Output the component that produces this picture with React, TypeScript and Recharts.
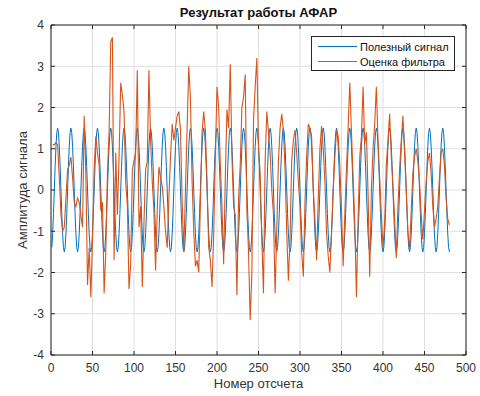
import React from 'react';
import { LineChart, Line, XAxis, YAxis, CartesianGrid, ReferenceLine } from 'recharts';

const chartTitle = 'Результат работы АФАР';
const xLabel = 'Номер отсчета';
const yLabel = 'Амплитуда сигнала';
const seriesNames = ['Полезный сигнал', 'Оценка фильтра'];
const xTicks = [0, 50, 100, 150, 200, 250, 300, 350, 400, 450, 500];
const yTicks = [-4, -3, -2, -1, 0, 1, 2, 3, 4];

// useful signal, samples 1..480
const signal = [
  -1.39, -1.06, -0.57, 0, 0.57, 1.06, 1.39, 1.5, 1.39, 1.06, 0.57, 0, -0.57, -1.06, -1.39, -1.5,
  -1.39, -1.06, -0.57, 0, 0.57, 1.06, 1.39, 1.5, 1.39, 1.06, 0.57, 0, -0.57, -1.06, -1.39, -1.5,
  -1.39, -1.06, -0.57, 0, 0.57, 1.06, 1.39, 1.5, 1.39, 1.06, 0.57, 0, -0.57, -1.06, -1.39, -1.5,
  -1.39, -1.06, -0.57, 0, 0.57, 1.06, 1.39, 1.5, 1.39, 1.06, 0.57, 0, -0.57, -1.06, -1.39, -1.5,
  -1.39, -1.06, -0.57, 0, 0.57, 1.06, 1.39, 1.5, 1.39, 1.06, 0.57, 0, -0.57, -1.06, -1.39, -1.5,
  -1.39, -1.06, -0.57, 0, 0.57, 1.06, 1.39, 1.5, 1.39, 1.06, 0.57, 0, -0.57, -1.06, -1.39, -1.5,
  -1.39, -1.06, -0.57, 0, 0.57, 1.06, 1.39, 1.5, 1.39, 1.06, 0.57, 0, -0.57, -1.06, -1.39, -1.5,
  -1.39, -1.06, -0.57, 0, 0.57, 1.06, 1.39, 1.5, 1.39, 1.06, 0.57, 0, -0.57, -1.06, -1.39, -1.5,
  -1.39, -1.06, -0.57, 0, 0.57, 1.06, 1.39, 1.5, 1.39, 1.06, 0.57, 0, -0.57, -1.06, -1.39, -1.5,
  -1.39, -1.06, -0.57, 0, 0.57, 1.06, 1.39, 1.5, 1.39, 1.06, 0.57, 0, -0.57, -1.06, -1.39, -1.5,
  -1.39, -1.06, -0.57, 0, 0.57, 1.06, 1.39, 1.5, 1.39, 1.06, 0.57, 0, -0.57, -1.06, -1.39, -1.5,
  -1.39, -1.06, -0.57, 0, 0.57, 1.06, 1.39, 1.5, 1.39, 1.06, 0.57, 0, -0.57, -1.06, -1.39, -1.5,
  -1.39, -1.06, -0.57, 0, 0.57, 1.06, 1.39, 1.5, 1.39, 1.06, 0.57, 0, -0.57, -1.06, -1.39, -1.5,
  -1.39, -1.06, -0.57, 0, 0.57, 1.06, 1.39, 1.5, 1.39, 1.06, 0.57, 0, -0.57, -1.06, -1.39, -1.5,
  -1.39, -1.06, -0.57, 0, 0.57, 1.06, 1.39, 1.5, 1.39, 1.06, 0.57, 0, -0.57, -1.06, -1.39, -1.5,
  -1.39, -1.06, -0.57, 0, 0.57, 1.06, 1.39, 1.5, 1.39, 1.06, 0.57, 0, -0.57, -1.06, -1.39, -1.5,
  -1.39, -1.06, -0.57, 0, 0.57, 1.06, 1.39, 1.5, 1.39, 1.06, 0.57, 0, -0.57, -1.06, -1.39, -1.5,
  -1.39, -1.06, -0.57, 0, 0.57, 1.06, 1.39, 1.5, 1.39, 1.06, 0.57, 0, -0.57, -1.06, -1.39, -1.5,
  -1.39, -1.06, -0.57, 0, 0.57, 1.06, 1.39, 1.5, 1.39, 1.06, 0.57, 0, -0.57, -1.06, -1.39, -1.5,
  -1.39, -1.06, -0.57, 0, 0.57, 1.06, 1.39, 1.5, 1.39, 1.06, 0.57, 0, -0.57, -1.06, -1.39, -1.5,
  -1.39, -1.06, -0.57, 0, 0.57, 1.06, 1.39, 1.5, 1.39, 1.06, 0.57, 0, -0.57, -1.06, -1.39, -1.5,
  -1.39, -1.06, -0.57, 0, 0.57, 1.06, 1.39, 1.5, 1.39, 1.06, 0.57, 0, -0.57, -1.06, -1.39, -1.5,
  -1.39, -1.06, -0.57, 0, 0.57, 1.06, 1.39, 1.5, 1.39, 1.06, 0.57, 0, -0.57, -1.06, -1.39, -1.5,
  -1.39, -1.06, -0.57, 0, 0.57, 1.06, 1.39, 1.5, 1.39, 1.06, 0.57, 0, -0.57, -1.06, -1.39, -1.5,
  -1.39, -1.06, -0.57, 0, 0.57, 1.06, 1.39, 1.5, 1.39, 1.06, 0.57, 0, -0.57, -1.06, -1.39, -1.5,
  -1.39, -1.06, -0.57, 0, 0.57, 1.06, 1.39, 1.5, 1.39, 1.06, 0.57, 0, -0.57, -1.06, -1.39, -1.5,
  -1.39, -1.06, -0.57, 0, 0.57, 1.06, 1.39, 1.5, 1.39, 1.06, 0.57, 0, -0.57, -1.06, -1.39, -1.5,
  -1.39, -1.06, -0.57, 0, 0.57, 1.06, 1.39, 1.5, 1.39, 1.06, 0.57, 0, -0.57, -1.06, -1.39, -1.5,
  -1.39, -1.06, -0.57, 0, 0.57, 1.06, 1.39, 1.5, 1.39, 1.06, 0.57, 0, -0.57, -1.06, -1.39, -1.5,
  -1.39, -1.06, -0.57, 0, 0.57, 1.06, 1.39, 1.5, 1.39, 1.06, 0.57, 0, -0.57, -1.06, -1.39, -1.5,
];

// filter estimate, read at samples 2,4,...,480
const estimate = [
  1.1, 1.1, 1.15, 1.1, 0.3, -0.6, -1.0, -0.9,
  -0.2, 0.5, 0.6, 0.8, 0.3, -0.3, -0.4, -0.2,
  -0.3, -0.6, -0.9, 1.8, 0.4, -2.3, -1.4, -2.6,
  -1.2, 0.5, 1.3, 0.9, 0.6, -0.5, -0.3, -2.5,
  -1.5, 0.4, 1.4, 3.6, 3.7, -1.7, 0.9, -0.6,
  0.8, 2.6, 2.3, 1.9, 0.2, -0.4, -2.4, -1.8,
  0.5, 0.7, 0.9, 2.9, -0.9, -0.4, -2.35, -0.8,
  0.5, 0.7, 2.9, 1.2, 0.2, -0.5, -1.95, -0.5,
  0.56, 0.3, 0.1, -0.4, -1.0, -1.4, -0.2, 0.8,
  1.6, 1.2, 1.5, 1.8, 1.9, 1.45, -0.25, -1.5,
  0.0, 1.5, 3.0, 2.2, 0.2, -1.0, -1.85, -1.7,
  -2.0, -0.3, 1.4, 1.9, 1.45, 0.2, -1.4, -1.7,
  -2.35, -1.1, 0.8, 2.5, 2.0, 0.6, -0.4, -1.8,
  0.3, 1.95, 1.5, 3.05, 0.8, -0.4, -0.6, -2.55,
  -0.2, 0.6, 2.0, 2.25, 2.8, -0.5, -1.5, -3.15,
  -2.0, 1.7, 2.5, 3.2, 1.05, 0.4, -1.2, -2.5,
  0.7, 1.9, 1.4, 0.9, 0.0, -0.6, -2.5, -1.0,
  0.7, 1.5, 1.85, 1.45, 0.5, -1.0, -2.2, -1.2,
  0.7, 1.2, 1.45, 0.9, 0.2, -0.4, -1.5, -2.1,
  -0.3, 0.8, 1.6, 1.5, 1.3, 0.0, -0.7, -1.7,
  -0.2, 1.0, 1.55, 1.0, 0.2, -1.05, -1.6, -2.0,
  -1.0, 0.0, 0.8, 1.45, 1.3, 0.6, -0.5, -1.85,
  -0.6, 0.5, 1.5, 2.6, 1.4, 0.3, -0.8, -2.6,
  -0.7, 0.8, 1.3, 2.5, 1.1, 1.4, -0.1, -2.1,
  0.0, 1.0, 1.6, 2.5, 1.2, 0.3, -0.6, -1.4,
  -0.8, 0.6, 1.2, 1.85, 0.8, 0.1, -0.7, -1.65,
  -0.4, 0.5, 1.2, 1.8, 0.9, 0.0, -1.0, -1.45,
  -0.5, 0.4, 0.8, 1.0, 0.7, 0.2, -0.6, -1.2,
  -0.5, 0.2, 0.7, 0.9, 0.4, -0.4, -0.9, -0.7,
  -0.4, 0.3, 0.9, 1.0, 0.6, -0.2, -0.7, -0.85,
];

const data = signal.map((v, i) => ({
  n: i + 1,
  signal: v,
  estimate: i % 2 === 1 ? estimate[(i - 1) / 2] : null,
}));

const W = 480;
const H = 396;
const M = { top: 25, right: 14, bottom: 41, left: 51 };
const PLOT_TOP = M.top;
const PLOT_BOTTOM = H - M.bottom;
const PLOT_LEFT = M.left;
const PLOT_RIGHT = W - M.right;
const AXIS_COLOR = '#262626';
const TEXT_COLOR = '#333333';
const BLUE = '#0072BD';
const ORANGE = '#D95319';
const FONT = '"Liberation Sans", Arial, Helvetica, sans-serif';
const TICK_LEN = 4;

const XTick = (props: any) => {
  const { x, y, payload } = props;
  return (
    <g>
      <line x1={x} x2={x} y1={PLOT_BOTTOM} y2={PLOT_BOTTOM - TICK_LEN} stroke={AXIS_COLOR} strokeWidth={1} />
      <line x1={x} x2={x} y1={PLOT_TOP} y2={PLOT_TOP + TICK_LEN} stroke={AXIS_COLOR} strokeWidth={1} />
      <text x={x} y={y} dy="0.71em" textAnchor="middle" fill={TEXT_COLOR} fontSize={12} fontFamily={FONT}>
        {payload.value}
      </text>
    </g>
  );
};

const YTick = (props: any) => {
  const { x, y, payload } = props;
  return (
    <g>
      <line x1={PLOT_LEFT} x2={PLOT_LEFT + TICK_LEN} y1={y} y2={y} stroke={AXIS_COLOR} strokeWidth={1} />
      <line x1={PLOT_RIGHT} x2={PLOT_RIGHT - TICK_LEN} y1={y} y2={y} stroke={AXIS_COLOR} strokeWidth={1} />
      <text x={x} y={y} dy="0.355em" textAnchor="end" fill={TEXT_COLOR} fontSize={12} fontFamily={FONT}>
        {payload.value}
      </text>
    </g>
  );
};

const LegendBox = () => {
  const colors = [BLUE, ORANGE];
  return (
    <div
      style={{
        position: 'absolute',
        left: 311,
        top: 36,
        border: '1px solid #262626',
        background: '#fff',
        width: 144,
        height: 35,
        boxSizing: 'border-box',
        padding: '2px 0 0 6px',
        fontFamily: FONT,
        fontSize: 11,
        color: '#111',
      }}
    >
      {seriesNames.map((name, i) => (
        <div key={name} style={{ display: 'flex', alignItems: 'center', height: 15 }}>
          <svg width={39} height={3} style={{ marginRight: 3, display: 'block' }}>
            <line x1={0} x2={39} y1={1.5} y2={1.5} stroke={colors[i]} strokeWidth={1} />
          </svg>
          <span style={{ whiteSpace: 'nowrap' }}>{name}</span>
        </div>
      ))}
    </div>
  );
};

export default function App() {
  return (
    <div style={{ position: 'absolute', left: 0, top: 0, width: W, height: H, background: '#fff' }}>
      <LineChart width={W} height={H} data={data} margin={{ top: M.top, right: M.right, bottom: 0, left: 0 }}>
        <CartesianGrid stroke="#dfdfdf" strokeWidth={1} verticalValues={xTicks} horizontalValues={yTicks} />
        <XAxis
          dataKey="n"
          type="number"
          domain={[0, 500]}
          ticks={xTicks}
          height={M.bottom}
          interval={0}
          tickSize={0}
          tickMargin={8}
          tickLine={false}
          axisLine={{ stroke: AXIS_COLOR }}
          tick={<XTick />}
          allowDataOverflow
        />
        <YAxis
          type="number"
          domain={[-4, 4]}
          ticks={yTicks}
          width={M.left}
          interval={0}
          tickSize={0}
          tickMargin={7}
          tickLine={false}
          axisLine={{ stroke: AXIS_COLOR }}
          tick={<YTick />}
          allowDataOverflow
        />
        <ReferenceLine y={4} stroke={AXIS_COLOR} strokeWidth={1} />
        <ReferenceLine x={500} stroke={AXIS_COLOR} strokeWidth={1} />
        <Line
          type="linear"
          dataKey="signal"
          name={seriesNames[0]}
          stroke={BLUE}
          strokeWidth={1}
          dot={false}
          isAnimationActive={false}
        />
        <Line
          type="linear"
          dataKey="estimate"
          name={seriesNames[1]}
          stroke={ORANGE}
          strokeWidth={1.1}
          dot={false}
          connectNulls
          isAnimationActive={false}
        />
      </LineChart>
      <LegendBox />
      <div
        style={{
          position: 'absolute',
          left: PLOT_LEFT,
          width: PLOT_RIGHT - PLOT_LEFT,
          top: 5,
          textAlign: 'center',
          fontFamily: FONT,
          fontWeight: 'bold',
          fontSize: 13,
          color: '#111',
        }}
      >
        {chartTitle}
      </div>
      <div
        style={{
          position: 'absolute',
          left: PLOT_LEFT,
          width: PLOT_RIGHT - PLOT_LEFT,
          top: 376,
          textAlign: 'center',
          fontFamily: FONT,
          fontSize: 13,
          color: TEXT_COLOR,
        }}
      >
        {xLabel}
      </div>
      <div
        style={{
          position: 'absolute',
          left: 22,
          top: (PLOT_TOP + PLOT_BOTTOM) / 2,
          transform: 'translate(-50%, -50%) rotate(-90deg)',
          whiteSpace: 'nowrap',
          fontFamily: FONT,
          fontSize: 13,
          color: TEXT_COLOR,
        }}
      >
        {yLabel}
      </div>
    </div>
  );
}
